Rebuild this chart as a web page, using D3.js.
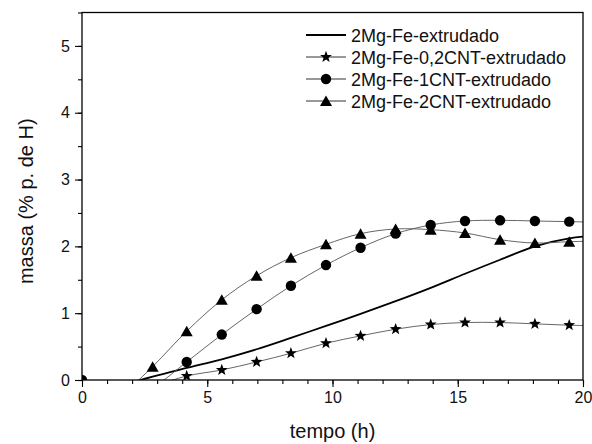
<!DOCTYPE html>
<html>
<head>
<meta charset="utf-8">
<script src="https://cdn.jsdelivr.net/npm/d3@7"></script>
<style>
  html, body { margin: 0; padding: 0; background: #fff; }
  svg { display: block; font-family: "Liberation Sans", Arial, sans-serif; }
</style>
</head>
<body>
<svg id="chart" width="592" height="444"></svg>
<script>
// Sampling times (h)
const tempo = [1.41, 2.82, 4.18, 5.58, 6.97, 8.34, 9.74, 11.12, 12.52, 13.92, 15.29, 16.69, 18.08, 19.45, 20.85];

// Hydrogen mass (% p. de H) per sample
const semCNT   = [-0.10, 0.05, 0.18, 0.31, 0.46, 0.63, 0.81, 0.99, 1.18, 1.38, 1.59, 1.80, 2.00, 2.12, 2.17];
const cnt02    = [-0.25, -0.10, 0.06, 0.15, 0.27, 0.40, 0.55, 0.66, 0.76, 0.83, 0.86, 0.86, 0.84, 0.82, 0.81];
const cnt1     = [-0.40, -0.12, 0.27, 0.68, 1.06, 1.41, 1.72, 1.98, 2.19, 2.32, 2.38, 2.39, 2.38, 2.37, 2.36];
const cnt2     = [-0.30, 0.20, 0.73, 1.20, 1.56, 1.83, 2.03, 2.19, 2.26, 2.25, 2.20, 2.10, 2.05, 2.07, 2.08];

// The 1CNT series also has a reading at t = 0
const cnt1Start = { t: 0, v: 0 };

const seriesNames = [
  "2Mg-Fe-extrudado",
  "2Mg-Fe-0,2CNT-extrudado",
  "2Mg-Fe-1CNT-extrudado",
  "2Mg-Fe-2CNT-extrudado"
];

const xTicks = [0, 5, 10, 15, 20];
const yTicks = [0, 1, 2, 3, 4, 5];

const svg = d3.select("#chart");
const L = 82, R = 583, T = 12.5, B = 380;

const x = d3.scaleLinear().domain([0, 20]).range([L, R]);
const y = d3.scaleLinear().domain([0, 5.5]).range([B, T]);

svg.append("defs").append("clipPath").attr("id", "plotClip")
  .append("rect").attr("x", L).attr("y", T).attr("width", R - L).attr("height", B - T);

// Marker shapes
const triPath = "M0,-5.5L6,5L-6,5Z";
function starPath(ro, ri) {
  let p = "";
  for (let i = 0; i < 10; i++) {
    const r = i % 2 === 0 ? ro : ri;
    const a = -Math.PI / 2 + i * Math.PI / 5;
    p += (i ? "L" : "M") + (r * Math.cos(a)).toFixed(2) + "," + (r * Math.sin(a)).toFixed(2);
  }
  return p + "Z";
}
const star = starPath(6.2, 2.6);

function build(vals, extra) {
  const pts = tempo.map((t, i) => ({ t, v: vals[i] }));
  return extra ? [extra].concat(pts) : pts;
}

const data = [
  { name: seriesNames[0], pts: build(semCNT), marker: null, stroke: "#000", width: 1.8 },
  { name: seriesNames[1], pts: build(cnt02), marker: "star", stroke: "#555", width: 0.9 },
  { name: seriesNames[2], pts: build(cnt1, cnt1Start), marker: "circle", stroke: "#555", width: 0.9 },
  { name: seriesNames[3], pts: build(cnt2), marker: "triangle", stroke: "#555", width: 0.9 }
];

const line = d3.line().x(d => x(d.t)).y(d => y(d.v)).curve(d3.curveCatmullRom.alpha(0.5));

const plot = svg.append("g").attr("clip-path", "url(#plotClip)");

data.forEach(s => {
  plot.append("path").datum(s.pts)
    .attr("d", line)
    .attr("fill", "none")
    .attr("stroke", s.stroke)
    .attr("stroke-width", s.width);
});

function drawMarker(g, type) {
  if (type === "circle") g.append("circle").attr("r", 5.2).attr("fill", "#000");
  else if (type === "triangle") g.append("path").attr("d", triPath).attr("fill", "#000");
  else if (type === "star") g.append("path").attr("d", star).attr("fill", "#000");
}

data.forEach(s => {
  if (!s.marker) return;
  s.pts.forEach(d => {
    const g = plot.append("g").attr("transform", `translate(${x(d.t)},${y(d.v)})`);
    drawMarker(g, s.marker);
  });
});

// Frame
svg.append("rect").attr("x", L).attr("y", T).attr("width", R - L).attr("height", B - T)
  .attr("fill", "none").attr("stroke", "#000").attr("stroke-width", 1.3);

// Axes
const xAxis = svg.append("g").attr("transform", `translate(0,${B})`);
xAxis.call(d3.axisBottom(x).tickValues(d3.range(0, 21, 1)).tickSize(4).tickFormat(""))
  .call(g => g.select(".domain").remove());
xAxis.append("g").call(d3.axisBottom(x).tickValues(xTicks).tickSize(7).tickPadding(5).tickFormat(d3.format("d")))
  .call(g => g.select(".domain").remove());

const yAxis = svg.append("g").attr("transform", `translate(${L},0)`);
yAxis.call(d3.axisLeft(y).tickValues(d3.range(0, 5.51, 0.5)).tickSize(4).tickFormat(""))
  .call(g => g.select(".domain").remove());
yAxis.append("g").call(d3.axisLeft(y).tickValues(yTicks).tickSize(7).tickPadding(5).tickFormat(d3.format("d")))
  .call(g => g.select(".domain").remove());

svg.selectAll(".tick line").attr("stroke", "#000").attr("stroke-width", 1.1);
svg.selectAll(".tick text").attr("fill", "#111").style("font-size", "16px")
  .style("font-family", "'Liberation Sans', Arial, sans-serif");

// Axis titles
svg.append("text").attr("x", (L + R) / 2).attr("y", 438).attr("text-anchor", "middle")
  .style("font-size", "20px").attr("fill", "#111").text("tempo (h)");
svg.append("text").attr("transform", `translate(33,${(T + B) / 2 + 5}) rotate(-90)`)
  .attr("text-anchor", "middle").style("font-size", "20px").attr("fill", "#111")
  .text("massa (% p. de H)");

// Legend
const leg = svg.append("g");
data.forEach((s, i) => {
  const yy = 35 + i * 22;
  leg.append("line").attr("x1", 306).attr("x2", 346).attr("y1", yy).attr("y2", yy)
    .attr("stroke", i === 0 ? "#000" : "#333").attr("stroke-width", i === 0 ? 1.8 : 1);
  if (s.marker) {
    const g = leg.append("g").attr("transform", `translate(326,${yy})`);
    drawMarker(g, s.marker);
  }
  leg.append("text").attr("x", 351).attr("y", yy + 6.5).style("font-size", "18px")
    .attr("fill", "#111").text(s.name);
});
</script>
</body>
</html>
